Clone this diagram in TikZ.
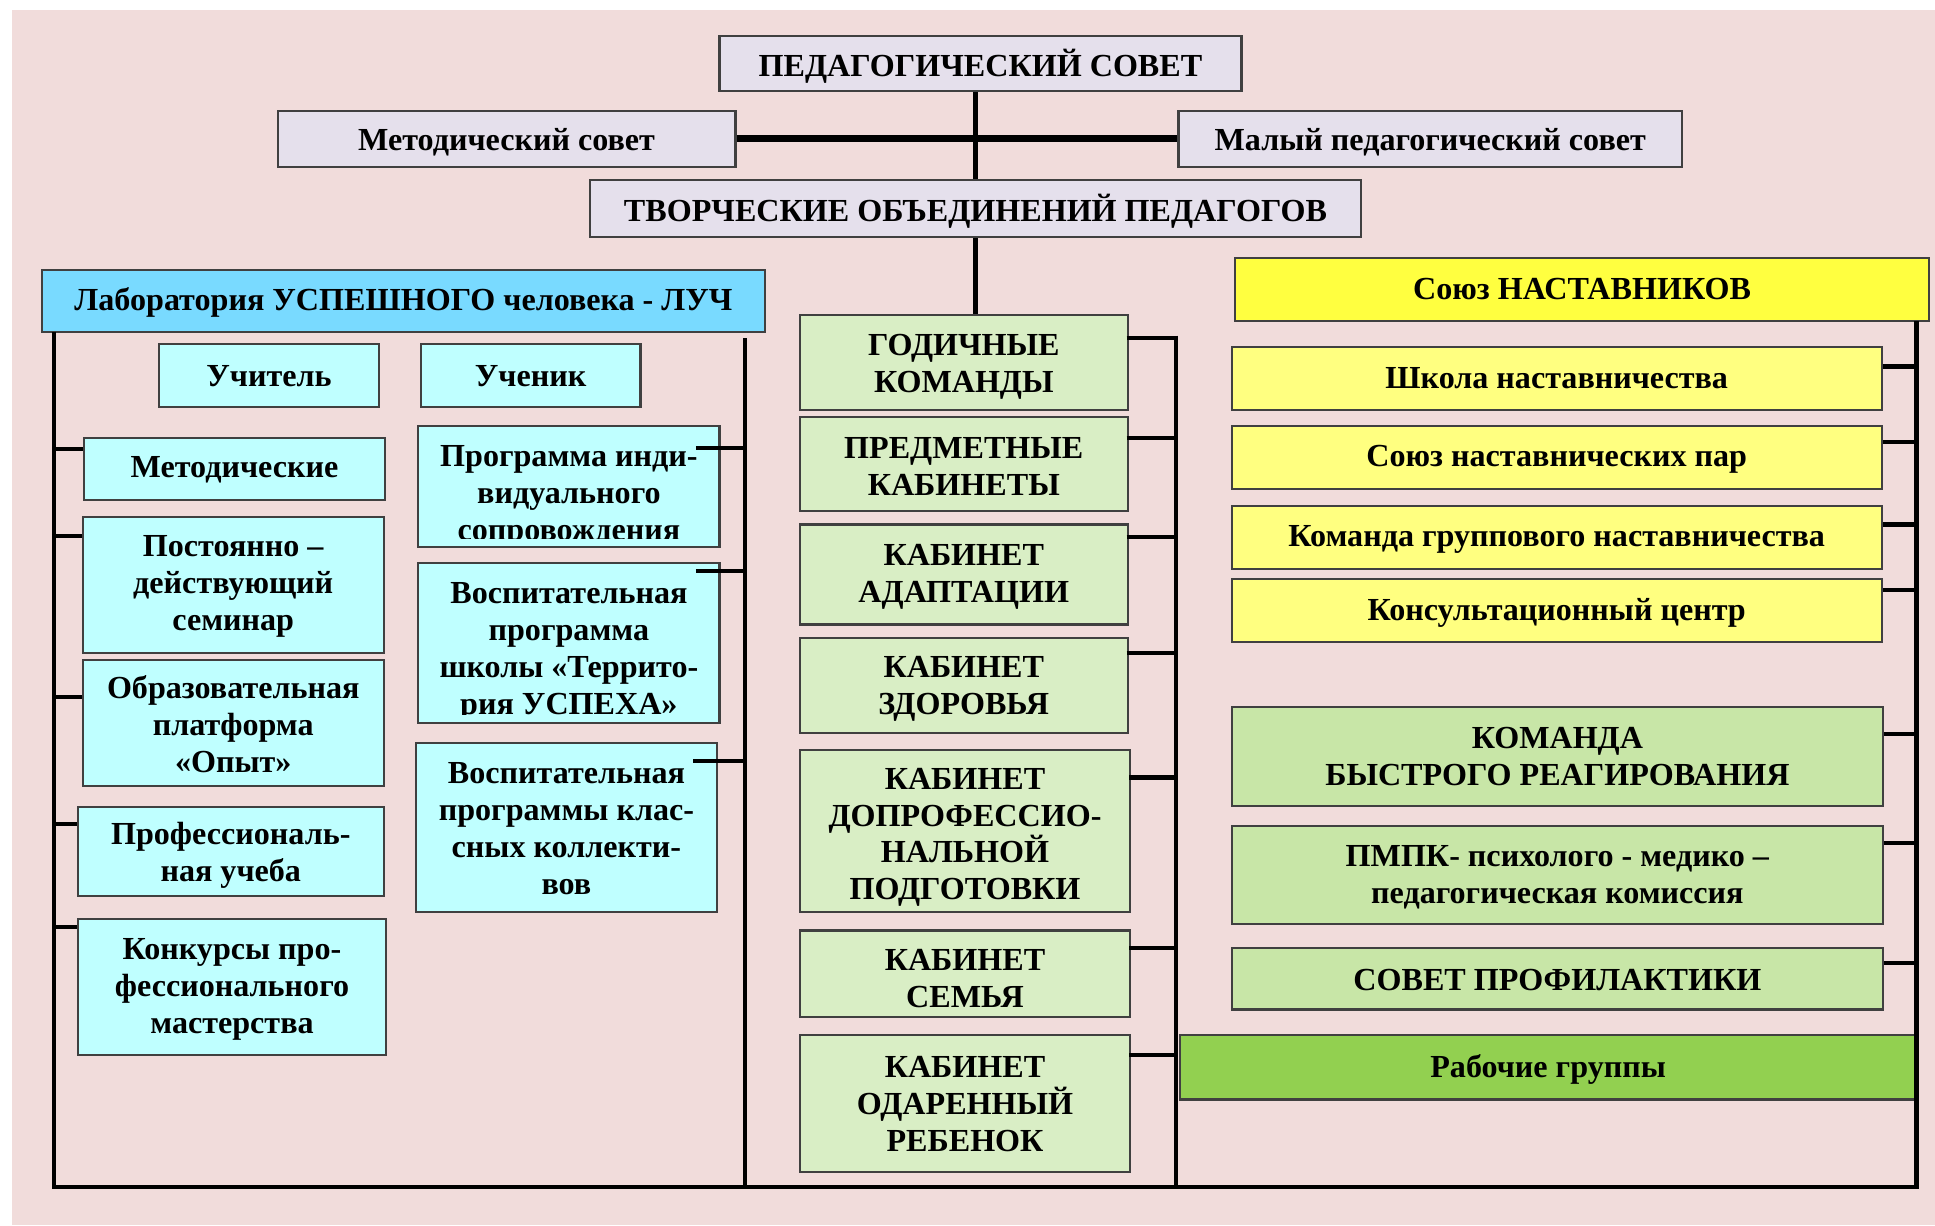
\documentclass[tikz,border=0pt]{standalone}
\usepackage{fontspec}
\setmainfont{Liberation Serif}
\usetikzlibrary{calc}
\definecolor{bgpink}{RGB}{241,220,219}
\definecolor{lav}{RGB}{229,224,236}
\definecolor{labblue}{RGB}{121,218,255}
\definecolor{cyanbox}{RGB}{191,255,255}
\definecolor{greenA}{RGB}{217,238,197}
\definecolor{greenB}{RGB}{200,230,167}
\definecolor{greenC}{RGB}{146,208,80}
\definecolor{yelA}{RGB}{255,255,64}
\definecolor{yelB}{RGB}{255,255,128}
% [text shift]{name}{x1}{y1}{x2}{y2}{style}{text}
\newcommand\mybox[8][2]{%
  \node[box,#7,minimum width={(#5-#3)*0.01cm},minimum height={(#6-#4)*0.01cm}] (#2) at ({(#3+#5)/2},{(#4+#6)/2}) {};
  \node[txt] (#2-t) at ([yshift={-#1*0.01cm}]#2.center) {#8};}
\newcommand\tkLeft[2]{\draw[tick] (#1.west |- 0,#2) -- (43,#2);}
\newcommand\tkStud[2]{\draw[tick] ($(#1.east |- 0,#2)+(-20,0)$) -- (604,#2);}
\newcommand\tkMid[2]{\draw[tick] ($(#1.east |- 0,#2)+(-2,0)$) -- (953,#2);}
\newcommand\tkRight[2]{\draw[tick] (#1.east |- 0,#2) -- (1553,#2);}
\begin{document}
\begin{tikzpicture}[x=0.01cm,y=-0.01cm,
  txt/.style={inner sep=0pt, align=center, font=\fontsize{7.4}{8.5}\selectfont\bfseries},
  box/.style={draw=black!75, line width=0.5pt, inner sep=0pt},
  conn/.style={line width=0.95pt, black},
  thickconn/.style={line width=1.6pt, black},
  tick/.style={line width=0.95pt, black},
]
\fill[white] (0,0) rectangle (1568,993);
\fill[bgpink] (10,8) rectangle (1568,993);
\useasboundingbox (0,0) rectangle (1568,993);

% top
\mybox{ped}{583}{29}{1006}{74}{fill=lav}{ПЕДАГОГИЧЕСКИЙ СОВЕТ}
\mybox[3]{metod}{225}{90}{596}{135}{fill=lav}{Методический совет}
\mybox[3]{malyi}{955}{90}{1363}{135}{fill=lav}{Малый педагогический совет}
\mybox{tvor}{478}{146}{1103}{192}{fill=lav}{ТВОРЧЕСКИЕ ОБЪЕДИНЕНИЙ ПЕДАГОГОВ}
\mybox[1]{lab}{34}{219}{620}{269}{fill=labblue}{Лаборатория УСПЕШНОГО человека - ЛУЧ}
\mybox[0]{soyuz}{1001}{209}{1563}{260}{fill=yelA}{Союз НАСТАВНИКОВ}

% left column
\mybox[0]{uch}{129}{279}{307}{330}{fill=cyanbox}{Учитель}
\mybox[0]{uchen}{341}{279}{519}{330}{fill=cyanbox}{Ученик}
\mybox[1]{metd}{68}{355}{312}{405}{fill=cyanbox}{Методические}
\mybox[1]{post}{67}{419}{311}{529}{fill=cyanbox}{Постоянно –\\действующий\\семинар}
\mybox[1]{obr}{67}{535}{311}{637}{fill=cyanbox}{Образовательная\\платформа\\«Опыт»}
\mybox[3]{prof}{63}{654}{311}{726}{fill=cyanbox}{Профессиональ-\\ная учеба}
\mybox[2]{konk}{63}{745}{313}{855}{fill=cyanbox}{Конкурсы про-\\фессионального\\мастерства}

\node[box,fill=cyanbox,minimum width=2.44cm,minimum height=0.98cm] (prog) at (461,394) {};
\begin{scope}
  \clip (339,345) rectangle (583,436);
  \node[txt] (prog-t) at (461,402) {Программа инди-\\видуального\\сопровождения};
\end{scope}
\node[box,fill=cyanbox,minimum width=2.44cm,minimum height=1.30cm] (vospa) at (461,521) {};
\begin{scope}
  \clip (339,456) rectangle (583,579);
  \node[txt] (vospa-t) at (461,528) {Воспитательная\\программа\\школы «Террито-\\рия УСПЕХА»};
\end{scope}
\mybox[1]{vospb}{337}{602}{581}{739}{fill=cyanbox}{Воспитательная\\программы клас-\\сных коллекти-\\вов}

% middle column
\mybox[4]{god}{648}{255}{914}{332}{fill=greenA}{ГОДИЧНЫЕ\\КОМАНДЫ}
\mybox[2]{pred}{648}{338}{914}{414}{fill=greenA}{ПРЕДМЕТНЫЕ\\КАБИНЕТЫ}
\mybox[2]{adap}{648}{425}{914}{506}{fill=greenA}{КАБИНЕТ\\АДАПТАЦИИ}
\mybox[3]{zdor}{648}{517}{914}{594}{fill=greenA}{КАБИНЕТ\\ЗДОРОВЬЯ}
\mybox[5]{dopr}{648}{608}{916}{739}{fill=greenA}{КАБИНЕТ\\ДОПРОФЕССИО-\\НАЛЬНОЙ\\ПОДГОТОВКИ}
\mybox[4]{sem}{648}{754}{916}{824}{fill=greenA}{КАБИНЕТ\\СЕМЬЯ}
\mybox[0]{odar}{648}{839}{916}{950}{fill=greenA}{КАБИНЕТ\\ОДАРЕННЫЙ\\РЕБЕНОК}

% right column
\mybox[0]{shk}{998}{281}{1525}{332}{fill=yelB}{Школа наставничества}
\mybox[2]{par}{998}{345}{1525}{396}{fill=yelB}{Союз наставнических пар}
\mybox[2]{grp}{998}{410}{1525}{461}{fill=yelB}{Команда группового наставничества}
\mybox[2]{kons}{998}{469}{1525}{520}{fill=yelB}{Консультационный центр}
\mybox[0]{kbr}{998}{573}{1526}{653}{fill=greenB}{КОМАНДА\\БЫСТРОГО РЕАГИРОВАНИЯ}
\mybox[2]{pmpk}{998}{669}{1526}{749}{fill=greenB}{ПМПК- психолого - медико –\\педагогическая комиссия}
\mybox[1]{sovp}{998}{768}{1526}{818}{fill=greenB}{СОВЕТ ПРОФИЛАКТИКИ}
\mybox[2]{rab}{956}{839}{1553}{891}{fill=greenC}{Рабочие группы}

% connectors at the top
\draw[conn] (tvor.north) -- (tvor.north |- ped.south);
\draw[thickconn] (metod.east) -- (malyi.west);
\draw[conn] (tvor.south) -- (tvor.south |- god.north);

% frame
\coordinate (Ltop) at (44,269);
\coordinate (Lbot) at (44,962);
\coordinate (Mtop) at (604,274);
\coordinate (Mbot) at (604,962);
\coordinate (Ctop) at (953,272);
\coordinate (Cbot) at (953,962);
\coordinate (Rtop) at (1553,260);
\coordinate (Rbot) at (1553,962);
\draw[conn, line join=miter] (Ltop) -- (Lbot) -- (Rbot) -- (Rtop);
\draw[conn] (Mtop) -- (Mbot);
\draw[conn] (Ctop) -- (Cbot);

% ticks
\tkLeft{metd}{364}
\tkLeft{post}{434}
\tkLeft{obr}{565}
\tkLeft{prof}{668}
\tkLeft{konk}{751}
\tkStud{prog}{363}
\tkStud{vospa}{463}
\tkStud{vospb}{617}
\tkMid{god}{274}
\tkMid{pred}{355}
\tkMid{adap}{435}
\tkMid{zdor}{529}
\tkMid{dopr}{630}
\tkMid{sem}{768}
\tkMid{odar}{855}
\tkRight{shk}{297}
\tkRight{par}{358}
\tkRight{grp}{425}
\tkRight{kons}{478}
\tkRight{kbr}{595}
\tkRight{pmpk}{683}
\tkRight{sovp}{780}
\end{tikzpicture}
\end{document}
